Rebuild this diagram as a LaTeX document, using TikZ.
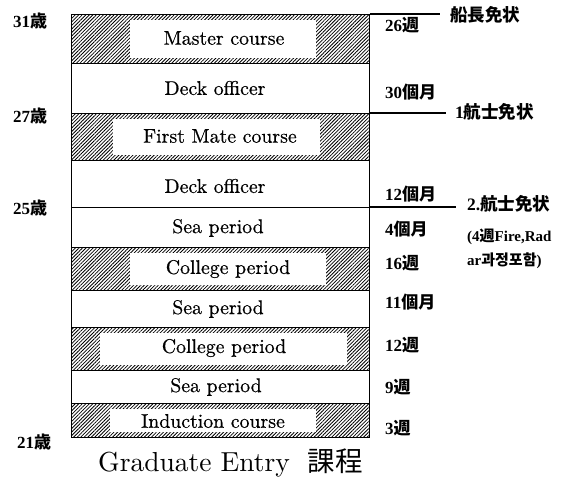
\documentclass[tikz,border=0pt]{standalone}
\usepackage{fontspec}
\newfontfamily\lmten{lmroman10-regular.otf}[FakeBold=0.5]
\newfontfamily\lmtitle{lmroman10-regular.otf}
\newfontfamily\tnr{Liberation Serif}
\newfontfamily\cjkf{Noto Sans CJK JP}
\newfontfamily\krf{Noto Sans CJK KR}
\usetikzlibrary{patterns.meta}
\begin{document}
\begin{tikzpicture}[x=1pt,y=-1pt,
  rowbox/.style={draw=black, line width=1.2pt, minimum width=298pt, inner sep=0pt, anchor=north west},
  hatchbox/.style={rowbox, pattern={Lines[angle=45,distance=2.5pt,line width=0.8pt]}},
  whitebox/.style={fill=white, draw=none, inner sep=0pt, anchor=north west},
  rowlabel/.style={font=\lmten\fontsize{19.8}{21}\selectfont, inner sep=0pt},
  durlabel/.style={font=\tnr\fontsize{17}{19}\bfseries\selectfont, anchor=west, inner sep=0pt},
  agelabel/.style={font=\tnr\fontsize{17}{19}\bfseries\selectfont, anchor=west, inner sep=0pt},
  licence/.style={font=\tnr\fontsize{17.5}{19}\bfseries\selectfont, anchor=west, inner sep=0pt},
  note/.style={font=\tnr\fontsize{15}{16}\bfseries\selectfont, anchor=west, inner sep=0pt},
  tick/.style={line width=1.2pt}
]
\useasboundingbox (0,0) rectangle (566,479);

% rows
\node[hatchbox, minimum height=49pt] (rMaster) at (71,14) {};
\node[rowbox, minimum height=50pt] (rDeck1) at (71,63) {};
\node[hatchbox, minimum height=47pt] (rFirst) at (71,113) {};
\node[rowbox, minimum height=47pt] (rDeck2) at (71,160) {};
\node[rowbox, minimum height=40pt] (rSea1) at (71,207) {};
\node[hatchbox, minimum height=43pt] (rColl1) at (71,247) {};
\node[rowbox, minimum height=37pt] (rSea2) at (71,290) {};
\node[hatchbox, minimum height=43pt] (rColl2) at (71,327) {};
\node[rowbox, minimum height=33pt] (rSea3) at (71,370) {};
\node[hatchbox, minimum height=34pt] (rInd) at (71,403) {};

% white inner boxes
\node[whitebox, minimum width=186pt, minimum height=38pt] (wMaster) at (130,19.5) {};
\node[whitebox, minimum width=207pt, minimum height=36pt] (wFirst) at (113,118.5) {};
\node[whitebox, minimum width=196pt, minimum height=32pt] (wColl1) at (130,252.5) {};
\node[whitebox, minimum width=247pt, minimum height=32pt] (wColl2) at (100,332.5) {};
\node[whitebox, minimum width=206pt, minimum height=23pt] (wInd) at (110,408.5) {};

% row labels
\node[rowlabel] (lMaster) at (224,38) {Master course};
\node[rowlabel] (lDeck1) at (215,88) {Deck officer};
\node[rowlabel] (lFirst) at (220,136) {First Mate course};
\node[rowlabel] (lDeck2) at (215,186) {Deck officer};
\node[rowlabel] (lSea1) at (218,228) {Sea period};
\node[rowlabel] (lColl1) at (228,269) {College period};
\node[rowlabel] (lSea2) at (218,309) {Sea period};
\node[rowlabel] (lColl2) at (224,348) {College period};
\node[rowlabel] (lSea3) at (216,387) {Sea period};
\node[rowlabel] (lInd) at (213,421) {Induction course};

% licence lines
\coordinate (e1) at (440,14);
\coordinate (e2) at (446,113);
\coordinate (e3) at (456,207);
\draw[tick] (rMaster.north east) -- (e1);
\draw[tick] (rFirst.north east) -- (e2);
\draw[tick] (rSea1.north east) -- (e3);

\node[licence] (lic1) at (450,15) {\cjkf 船長免状};
\node[licence] (lic2) at (455,112) {1\cjkf 航士免状};
\node[licence] (lic3) at (467,204) {2.\cjkf 航士免状};
\node[note] (n1) at (467,237) {(4{\cjkf 週}Fire,Rad};
\node[note] (n2) at (467,261) {ar{\krf 과정포함})};

% durations
\node[durlabel] (d1) at (385,25) {26\cjkf 週};
\node[durlabel] (d2) at (385,92) {30\cjkf 個月};
\node[durlabel] (d3) at (385,194) {12\cjkf 個月};
\node[durlabel] (d4) at (385,229) {4\cjkf 個月};
\node[durlabel] (d5) at (385,263) {16\cjkf 週};
\node[durlabel] (d6) at (385,302) {11\cjkf 個月};
\node[durlabel] (d7) at (385,345) {12\cjkf 週};
\node[durlabel] (d8) at (385,387) {9\cjkf 週};
\node[durlabel] (d9) at (385,428) {3\cjkf 週};

% ages
\node[agelabel] (a1) at (13,21) {31\cjkf 歳};
\node[agelabel] (a2) at (13,116) {27\cjkf 歳};
\node[agelabel] (a3) at (13,208) {25\cjkf 歳};
\node[agelabel] (a4) at (17,442) {21\cjkf 歳};

% title
\node[font=\lmtitle\fontsize{27.5}{30}\selectfont, inner sep=0pt, anchor=west] (title) at (98,463) {Graduate Entry\hspace{18pt}{\cjkf 課程}};
\end{tikzpicture}
\end{document}
